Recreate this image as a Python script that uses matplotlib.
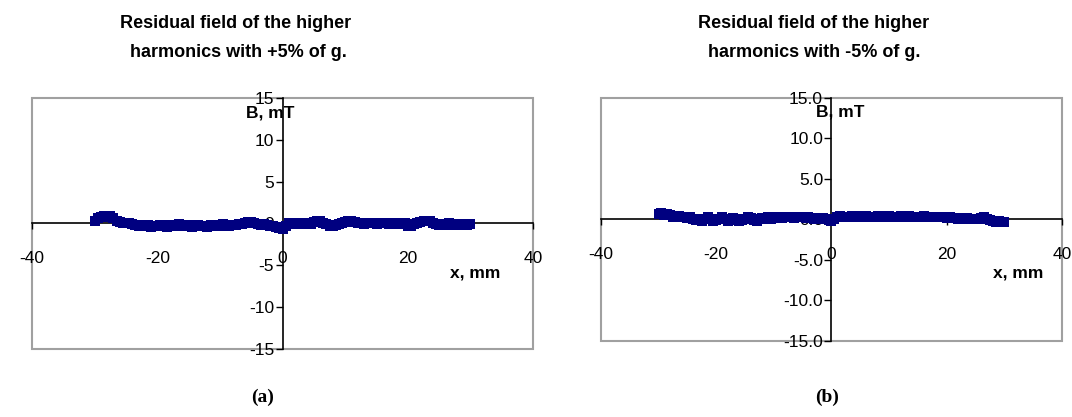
import numpy as np
import matplotlib
matplotlib.use("Agg")
import matplotlib.pyplot as plt
from matplotlib.patches import Rectangle

plt.rcParams['font.family'] = ['Liberation Sans', 'DejaVu Sans']
plt.rcParams['axes.unicode_minus'] = False

# x positions, mm (0.5 mm step)
x_mm = np.arange(-30, 30.01, 0.5)

# residual field B, mT  (+5% of g)
b_plus = [0.3, 0.6, 0.8, 0.9, 0.8, 0.85, 0.7,
          0.3, 0.15, 0.1, 0.05, 0.0,
          -0.1, -0.2, -0.3, -0.15, -0.35, -0.2, -0.4, -0.25, -0.3, -0.15, -0.35, -0.4, -0.2, -0.3,
          -0.25, -0.1, -0.3, -0.35, -0.2, -0.4, -0.3, -0.15, -0.25, -0.3, -0.45, -0.2, -0.3,
          -0.2, -0.35, -0.1, -0.25, -0.3, -0.15, -0.2, -0.05, -0.1, 0.0,
          0.15, 0.2, 0.1, -0.05, -0.15, -0.1,
          -0.2, -0.3, -0.25, -0.4, -0.55, -0.6,
          -0.3, 0.0, 0.1, -0.05, 0.05, -0.1, 0.0, 0.1, -0.05,
          0.2, 0.3, 0.25, 0.1, -0.05,
          -0.25, -0.3, -0.15, -0.1, 0.05,
          0.2, 0.3, 0.25, 0.15, 0.0,
          0.05, -0.05, 0.1, 0.0, 0.05, -0.1, 0.05, 0.1, 0.0, -0.05, 0.1, 0.05, -0.1, 0.0, 0.05,
          -0.3, -0.25, -0.1, 0.05, 0.15,
          0.3, 0.35, 0.25, 0.1,
          -0.1, -0.2, -0.05, -0.15, 0.0, -0.2, -0.1, -0.05, -0.2, -0.1, -0.15, -0.05]

# residual field B, mT  (-5% of g)
b_minus = [0.7, 0.75, 0.6, 0.7, 0.55,
           0.35, 0.3, 0.4, 0.25, 0.3, 0.2, 0.3,
           0.0, -0.1, 0.05, -0.15, 0.1, 0.25, 0.05, -0.2, -0.1, 0.1, 0.25, 0.0, -0.15, -0.05,
           0.2, 0.1, -0.15, -0.1, 0.05, 0.25, 0.15, -0.1, -0.2, 0.0, 0.2, 0.1, 0.25, 0.05, 0.15,
           0.25, 0.3, 0.2, 0.35, 0.25, 0.3, 0.15, 0.3, 0.25, 0.35, 0.2, 0.3, 0.2,
           0.1, 0.2, 0.05, 0.15, 0.0, -0.1, -0.2,
           0.1, 0.25, 0.45, 0.3, 0.35, 0.25, 0.4, 0.3, 0.35, 0.45, 0.3, 0.4, 0.25, 0.35, 0.3,
           0.4, 0.45, 0.3, 0.35, 0.4, 0.25, 0.35, 0.3, 0.4, 0.35,
           0.3, 0.4, 0.35, 0.25, 0.35, 0.3, 0.4, 0.3, 0.25, 0.35, 0.3, 0.25, 0.35, 0.3, 0.2, 0.25,
           0.15, 0.2, 0.1, 0.15, 0.05, 0.15, 0.1, 0.0, 0.1, 0.05, 0.15, 0.25, 0.1, -0.05,
           -0.2, -0.25, -0.15, -0.3, -0.25]

x_ticks = [-40, -20, 0, 20, 40]
y_ticks = [-15, -10, -5, 0, 5, 10, 15]

titles = ["Residual field of the higher\n harmonics with +5% of g.",
          "Residual field of the higher\nharmonics with -5% of g."]
fmts = ["%g", "%.1f"]
panel = ["(a)", "(b)"]

fig = plt.figure(figsize=(10.72, 4.17), dpi=100)
axa = fig.add_axes([0.0299, 0.1631, 0.4674, 0.6019])
axb = fig.add_axes([0.5606, 0.1823, 0.4300, 0.5827])


def style(ax, fmt):
    ax.set_xlim(-40, 40)
    ax.set_ylim(-15, 15)
    for s in ['top', 'right']:
        ax.spines[s].set_visible(False)
    for s in ['left', 'bottom']:
        ax.spines[s].set_position(('data', 0))
        ax.spines[s].set_color('black')
        ax.spines[s].set_linewidth(1.2)
    ax.add_patch(Rectangle((0, 0), 1, 1, transform=ax.transAxes, fill=False,
                           edgecolor='#a0a0a0', lw=1.5, clip_on=False, zorder=0))
    ax.set_xticks(x_ticks)
    ax.set_yticks(y_ticks)
    ax.yaxis.set_major_formatter(matplotlib.ticker.FormatStrFormatter(fmt))
    ax.tick_params(axis='y', direction='out', length=5, width=1, labelsize=12.5, pad=1)
    ax.tick_params(axis='x', direction='out', length=4, width=1, labelsize=12.5, pad=16)
    ax.patch.set_visible(False)


for ax, b, fmt in [(axa, b_plus, fmts[0]), (axb, b_minus, fmts[1])]:
    style(ax, fmt)
    ax.plot(x_mm, b, color='#000080', lw=5, marker='s', markersize=6.5,
            markeredgewidth=0, zorder=3, clip_on=False, solid_capstyle='butt')

# axis titles and chart titles
kw = dict(ha='center', va='center', fontsize=12.5, fontweight='bold')
fig.text(270 / 1072, 1 - 113 / 417, "B, mT", **kw)
fig.text(475 / 1072, 1 - 273 / 417, "x, mm", **kw)
fig.text(840 / 1072, 1 - 112 / 417, "B, mT", **kw)
fig.text(1018 / 1072, 1 - 273 / 417, "x, mm", **kw)

fig.text(236 / 1072, 1 - 38 / 417, titles[0], ha='center', va='center', fontsize=13,
         fontweight='bold', linespacing=1.9)
fig.text(814 / 1072, 1 - 38 / 417, titles[1], ha='center', va='center', fontsize=13,
         fontweight='bold', linespacing=1.9)

fig.text(263 / 1072, 1 - 397 / 417, panel[0], ha='center', va='center', fontsize=14,
         fontweight='bold', family='Liberation Serif')
fig.text(827 / 1072, 1 - 397 / 417, panel[1], ha='center', va='center', fontsize=14,
         fontweight='bold', family='Liberation Serif')

fig.savefig("out.png", dpi=100)
